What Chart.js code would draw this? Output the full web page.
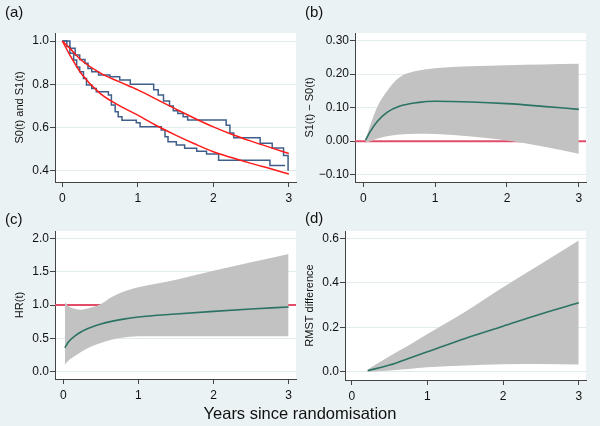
<!DOCTYPE html>
<html>
<head>
<meta charset="utf-8">
<script src="https://cdn.jsdelivr.net/npm/chart.js@4.4.0/dist/chart.umd.min.js"></script>
<style>
  html, body { margin: 0; padding: 0; }
  body { width: 600px; height: 426px; background: #eaf2f3; position: relative; overflow: hidden;
         font-family: "Liberation Sans", Arial, sans-serif; color: #111; }
  canvas { position: absolute; left: 0; top: 0; }
  .tag { position: absolute; font-size: 15px; line-height: 1; }
  #xTitle { position: absolute; left: 0; width: 600px; top: 405px; text-align: center; font-size: 16.5px; line-height: 1; }
</style>
</head>
<body>
<canvas id="panelA" width="600" height="426"></canvas>
<canvas id="panelB" width="600" height="426"></canvas>
<canvas id="panelC" width="600" height="426"></canvas>
<canvas id="panelD" width="600" height="426"></canvas>
<div class="tag" style="left:5px;top:4px">(a)</div>
<div class="tag" style="left:305px;top:4px">(b)</div>
<div class="tag" style="left:5px;top:211px">(c)</div>
<div class="tag" style="left:305px;top:210px">(d)</div>
<div id="xTitle">Years since randomisation</div>
<script>
const xTicks = [0, 1, 2, 3];

// (a) KM steps per arm + fitted survival
const kmTime1 = [0, 0.10, 0.17, 0.23, 0.30, 0.34, 0.39, 0.48, 0.63, 0.76, 0.90, 1.21, 1.27, 1.34, 1.42, 1.47, 1.53, 1.60, 1.66, 2.17, 2.22, 2.27, 2.62, 2.78, 2.93, 2.99];
const kmSurv1 = [1.0, 0.966, 0.935, 0.915, 0.897, 0.873, 0.858, 0.843, 0.835, 0.82, 0.80, 0.775, 0.75, 0.722, 0.70, 0.678, 0.665, 0.65, 0.635, 0.61, 0.575, 0.553, 0.527, 0.505, 0.47, 0.40];
const kmTime0 = [0, 0.06, 0.10, 0.15, 0.19, 0.23, 0.28, 0.32, 0.39, 0.45, 0.61, 0.65, 0.70, 0.74, 0.79, 0.98, 1.03, 1.31, 1.36, 1.40, 1.51, 1.62, 1.78, 1.91, 2.07, 2.75, 2.95];
const kmSurv0 = [1.0, 0.974, 0.943, 0.912, 0.88, 0.858, 0.827, 0.796, 0.78, 0.765, 0.75, 0.704, 0.673, 0.65, 0.634, 0.622, 0.603, 0.588, 0.557, 0.534, 0.519, 0.504, 0.49, 0.478, 0.448, 0.424, 0.424];
const fitTime = [0, 0.1, 0.25, 0.5, 0.75, 1.0, 1.25, 1.5, 1.75, 2.0, 2.25, 2.5, 2.75, 3.0];
const fitSurv1 = [1.0, 0.966, 0.912, 0.853, 0.812, 0.774, 0.73, 0.686, 0.643, 0.603, 0.568, 0.537, 0.508, 0.48];
const fitSurv0 = [1.0, 0.935, 0.85, 0.758, 0.702, 0.657, 0.608, 0.565, 0.525, 0.488, 0.46, 0.434, 0.41, 0.385];
const yTicksA = [0.4, 0.6, 0.8, 1.0];

// (b) survival difference
const diffTime = [0.03, 0.1, 0.2, 0.33, 0.5, 0.75, 1.0, 1.5, 2.0, 2.5, 3.0];
const diffEst = [0.003, 0.03, 0.06, 0.086, 0.104, 0.115, 0.119, 0.117, 0.112, 0.104, 0.095];
const diffLo = [-0.004, 0.0, 0.008, 0.015, 0.02, 0.022, 0.021, 0.014, 0.002, -0.016, -0.038];
const diffHi = [0.005, 0.05, 0.105, 0.15, 0.19, 0.21, 0.218, 0.224, 0.227, 0.229, 0.231];
const yTicksB = [-0.1, 0, 0.1, 0.2, 0.3];

// (c) hazard ratio
const hrTime = [0.02, 0.07, 0.16, 0.24, 0.38, 0.5, 0.64, 0.78, 1.0, 1.5, 2.0, 2.5, 3.0];
const hrEst = [0.36, 0.45, 0.54, 0.60, 0.67, 0.715, 0.755, 0.785, 0.82, 0.865, 0.905, 0.94, 0.97];
const hrLo = [0.105, 0.17, 0.24, 0.3, 0.38, 0.43, 0.48, 0.51, 0.53, 0.53, 0.53, 0.53, 0.53];
const hrHi = [1.045, 0.98, 0.94, 0.93, 0.965, 1.015, 1.115, 1.19, 1.265, 1.38, 1.515, 1.64, 1.765];
const yTicksC = [0, 0.5, 1.0, 1.5, 2.0];

// (d) RMST difference
const rmstTime = [0.21, 0.5, 0.75, 1.0, 1.5, 2.0, 2.5, 3.0];
const rmstEst = [0.005, 0.03, 0.06, 0.09, 0.15, 0.205, 0.26, 0.31];
const rmstLo = [0.0, 0.006, 0.013, 0.02, 0.028, 0.034, 0.035, 0.033];
const rmstHi = [0.01, 0.07, 0.118, 0.17, 0.27, 0.38, 0.485, 0.59];
const yTicksD = [0, 0.2, 0.4, 0.6];

const BAND = '#c2c2c2', EST = '#2b7363', REF = '#e34d6b', KM = '#3f5f8a', FIT = '#ff1a1a';
const AXIS = '#444', GRID = '#e2ecee';
const X_AXIS_H = 20;

Chart.defaults.font.family = '"Liberation Sans", Arial, sans-serif';
Chart.defaults.font.size = 12;
Chart.defaults.color = '#111';

const pts = (xs, ys) => xs.map((x, i) => ({ x, y: ys[i] }));
const fmt = (v, d) => (v < -1e-9 ? '\u2212' : '') + Math.abs(v).toFixed(d);

const plotBg = {
  id: 'plotBg',
  beforeDraw(chart) {
    const { ctx, chartArea: a } = chart;
    ctx.save();
    ctx.fillStyle = '#fff';
    ctx.fillRect(a.left, a.top, a.right - a.left, a.bottom - a.top);
    ctx.restore();
  }
};

// horizontal reference line, under the bands
const refLine = {
  id: 'refLine',
  beforeDatasetsDraw(chart, args, o) {
    if (o.value === undefined) return;
    const { ctx, chartArea: a } = chart;
    const y = chart.scales.y.getPixelForValue(o.value);
    ctx.save();
    ctx.strokeStyle = REF;
    ctx.lineWidth = 2;
    ctx.beginPath();
    ctx.moveTo(a.left, y);
    ctx.lineTo(a.right, y);
    ctx.stroke();
    ctx.restore();
  }
};

function line(data, color, width, extra) {
  return Object.assign({ data, borderColor: color, borderWidth: width, pointRadius: 0, fill: false,
    cubicInterpolationMode: 'monotone' }, extra);
}

function bandSets(xs, est, lo, hi) {
  return [
    line(pts(xs, est), EST, 1.6, { order: 0 }),
    line(pts(xs, hi), 'transparent', 0, { order: 1, fill: '+1', backgroundColor: BAND }),
    line(pts(xs, lo), 'transparent', 0, { order: 2 })
  ];
}

function makePanel(id, cfg) {
  return new Chart(document.getElementById(id), {
    type: 'line',
    data: { datasets: cfg.datasets },
    options: {
      responsive: false,
      animation: false,
      layout: { padding: { left: cfg.padLeft, top: cfg.top, right: 600 - cfg.right, bottom: 426 - cfg.bottom - X_AXIS_H } },
      plugins: { legend: { display: false }, tooltip: { enabled: false }, refLine: { value: cfg.ref } },
      scales: {
        x: {
          type: 'linear', min: cfg.xMin, max: cfg.xMax,
          afterBuildTicks: s => { s.ticks = xTicks.map(v => ({ value: v })); },
          afterFit: s => { s.height = X_AXIS_H; },
          ticks: { padding: 4, maxRotation: 0, autoSkip: false, callback: v => String(v) },
          grid: { drawOnChartArea: false, tickLength: 5, tickColor: AXIS },
          border: { color: AXIS }
        },
        y: {
          type: 'linear', min: cfg.yMin, max: cfg.yMax,
          afterBuildTicks: s => { s.ticks = cfg.yTicks.map(v => ({ value: v })); },
          afterFit: s => { s.width = cfg.yWidth; },
          ticks: { padding: 1, autoSkip: false, callback: v => fmt(v, cfg.dec) },
          grid: { color: GRID, tickLength: 5, tickColor: AXIS },
          border: { color: AXIS },
          title: { display: true, text: cfg.yTitle, font: { size: 11 }, padding: 0 }
        }
      }
    },
    plugins: [plotBg, refLine]
  });
}

makePanel('panelA', {
  padLeft: 13.4, yWidth: 41.6, top: 33, right: 296, bottom: 182,
  xMin: -0.097, xMax: 3.095, yMin: 0.348, yMax: 1.037, yTicks: yTicksA, dec: 1,
  yTitle: 'S0(t) and S1(t)',
  datasets: [
    line(pts(fitTime, fitSurv1), FIT, 1.5),
    line(pts(fitTime, fitSurv0), FIT, 1.5),
    line(pts(kmTime1, kmSurv1), KM, 1.5, { stepped: true }),
    line(pts(kmTime0, kmSurv0), KM, 1.5, { stepped: true })
  ]
});

makePanel('panelB', {
  padLeft: 303.4, yWidth: 51.6, top: 33, right: 586, bottom: 182,
  xMin: -0.116, xMax: 3.10, yMin: -0.122, yMax: 0.323, yTicks: yTicksB, dec: 2,
  yTitle: 'S1(t) \u2212 S0(t)', ref: 0,
  datasets: bandSets(diffTime, diffEst, diffLo, diffHi)
});

makePanel('panelC', {
  padLeft: 13.4, yWidth: 41.6, top: 231, right: 296, bottom: 379,
  xMin: -0.111, xMax: 3.099, yMin: -0.109, yMax: 2.109, yTicks: yTicksC, dec: 1,
  yTitle: 'HR(t)', ref: 1,
  datasets: bandSets(hrTime, hrEst, hrLo, hrHi)
});

makePanel('panelD', {
  padLeft: 303.4, yWidth: 41.6, top: 231, right: 586, bottom: 380,
  xMin: -0.089, xMax: 3.096, yMin: -0.037, yMax: 0.633, yTicks: yTicksD, dec: 1,
  yTitle: 'RMST difference',
  datasets: bandSets(rmstTime, rmstEst, rmstLo, rmstHi)
});
</script>
</body>
</html>
